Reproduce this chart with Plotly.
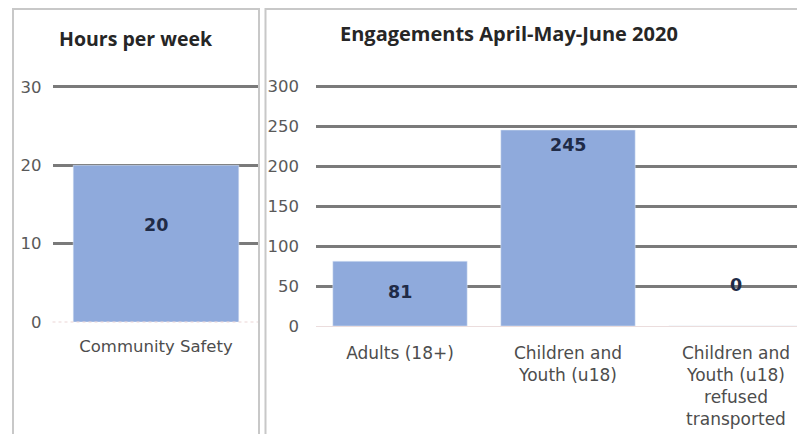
import plotly.graph_objects as go

W, H = 805, 434

# ---- data ----
hours_categories = ["Community Safety"]
hours_values = [20]
hours_ticks = [0, 10, 20, 30]

eng_categories = ["Adults (18+)", "Children and<br>Youth (u18)", "Children and<br>Youth (u18)<br>refused<br>transported"]
eng_values = [81, 245, 0]
eng_ticks = [0, 50, 100, 150, 200, 250, 300]

titles = ["Hours per week", "Engagements April-May-June 2020"]

# ---- styling helpers (page has an 8px body margin, compensate) ----
OFF = 8

def px_x(p):
    return (p - OFF) / W

def px_y(p):
    return (H - (p - OFF)) / H

BAR = "#8FAADC"
GRID = "#7A7A7A"
TICK = "#595959"
CAT = "#4D4D4D"
LABEL = "#1F2B47"
FONT = "DejaVu Sans"

fig = go.Figure()
fig.add_trace(go.Bar(x=hours_categories, y=hours_values, marker_color=BAR, width=0.8,
                     xaxis="x", yaxis="y", showlegend=False, hoverinfo="skip"))
fig.add_trace(go.Bar(x=eng_categories, y=eng_values, marker_color=BAR, width=0.8,
                     xaxis="x2", yaxis="y2", showlegend=False, hoverinfo="skip"))

# left plot: 0 at y=322, 30 at y=87 ; x from 52.5 to 259.5
l_top = 322 - 31 * (235 / 30)
# right plot: 0 at y=326, 300 at y=86 ; category spacing 168px, first centre at 400
r_top = 326 - 310 * 0.8
r_span = (W + OFF - 316) / 168.0

axis_common = dict(showline=False, zeroline=False, ticks="", fixedrange=True, automargin=False)

fig.update_layout(
    width=W, height=H,
    margin=dict(l=0, r=0, t=0, b=0, autoexpand=False),
    paper_bgcolor="white", plot_bgcolor="white",
    bargap=0.2,
    font=dict(family=FONT, size=16, color=TICK),
    xaxis=dict(domain=[px_x(52.5), px_x(259.5)], range=[-0.5, 0.5], showgrid=False,
               tickfont=dict(size=16.5, color=CAT), ticklabelstandoff=12, **axis_common),
    yaxis=dict(domain=[px_y(322), px_y(l_top)], range=[0, 31], tickvals=hours_ticks,
               showgrid=True, gridcolor=GRID, gridwidth=2.5,
               tickfont=dict(size=16.5, color=TICK), ticklabelstandoff=10, **axis_common),
    xaxis2=dict(domain=[px_x(316), 1], range=[-0.5, -0.5 + r_span], showgrid=False,
                anchor="y2", tickfont=dict(size=17, color=CAT), ticklabelstandoff=15,
                **axis_common),
    yaxis2=dict(domain=[px_y(326), px_y(r_top)], range=[0, 310], tickvals=eng_ticks,
                anchor="x2", showgrid=True, gridcolor=GRID, gridwidth=2.5,
                tickfont=dict(size=16.5, color=TICK), ticklabelstandoff=16, **axis_common),
)

# faint baselines
fig.add_shape(type="line", xref="paper", yref="paper", x0=px_x(52.5), x1=px_x(259.5),
              y0=px_y(322), y1=px_y(322), line=dict(color="#EBD5D5", width=1, dash="dot"))
fig.add_shape(type="line", xref="paper", yref="paper", x0=px_x(316), x1=1,
              y0=px_y(326.5), y1=px_y(326.5), line=dict(color="#EBDDDD", width=1))

# panel borders
fig.add_shape(type="rect", xref="paper", yref="paper", x0=px_x(13), x1=px_x(259),
              y0=px_y(460), y1=px_y(9), line=dict(color="#C8C8C8", width=2), layer="above")
fig.add_shape(type="rect", xref="paper", yref="paper", x0=px_x(265.5), x1=px_x(840),
              y0=px_y(460), y1=px_y(9), line=dict(color="#C8C8C8", width=2), layer="above")

# titles
fig.add_annotation(text="<b>" + titles[0] + "</b>", xref="paper", yref="paper",
                   x=px_x(136), y=px_y(38), showarrow=False, xanchor="center", yanchor="middle",
                   font=dict(family="Open Sans", size=19.5, color="#262626"))
fig.add_annotation(text="<b>" + titles[1] + "</b>", xref="paper", yref="paper",
                   x=px_x(509), y=px_y(33), showarrow=False, xanchor="center", yanchor="middle",
                   font=dict(family="Open Sans", size=20, color="#262626"))

# data labels (positions as placed in the reference)
label_font = dict(family=FONT, size=17.5, color=LABEL)
fig.add_annotation(x=hours_categories[0], y=12.4, xref="x", yref="y", text="<b>%d</b>" % hours_values[0],
                   showarrow=False, font=label_font)
eng_label_y = [42.5, 226, 51]
for c, v, ly in zip(eng_categories, eng_values, eng_label_y):
    fig.add_annotation(x=c, y=ly, xref="x2", yref="y2", text="<b>%d</b>" % v,
                       showarrow=False, font=label_font)

fig.write_html("out.html")
